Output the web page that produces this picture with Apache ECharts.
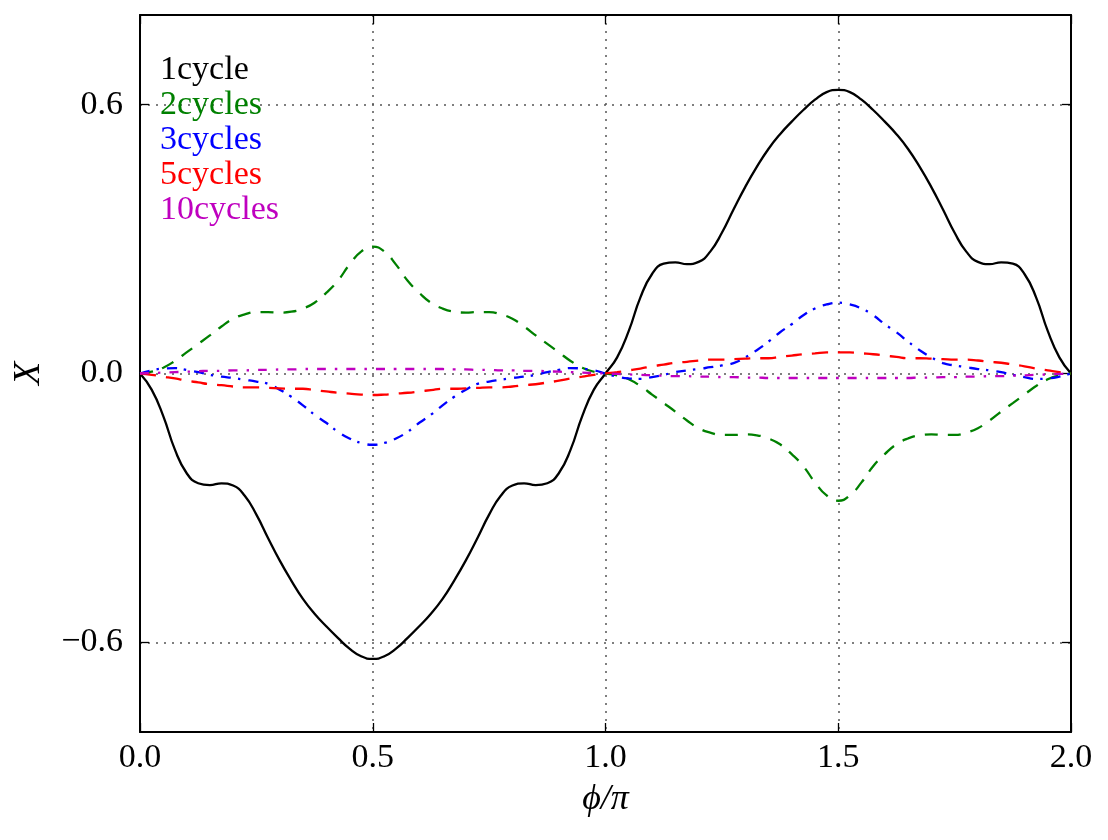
<!DOCTYPE html>
<html><head><meta charset="utf-8">
<script src="https://cdn.jsdelivr.net/npm/echarts@6/dist/echarts.min.js"></script>
<style>html,body{margin:0;padding:0;background:#fff}#c{width:1108px;height:840px}</style>
</head><body><div id="c"></div>
<script>
const phi = [0,0.025,0.05,0.075,0.1,0.125,0.15,0.175,0.2,0.225,0.25,0.275,0.3,0.325,0.35,0.375,0.4,0.425,0.45,0.475,0.5,
0.525,0.55,0.575,0.6,0.625,0.65,0.675,0.7,0.725,0.75,0.775,0.8,0.825,0.85,0.875,0.9,0.925,0.95,0.975,1.0,
1.025,1.05,1.075,1.1,1.125,1.15,1.175,1.2,1.225,1.25,1.275,1.3,1.325,1.35,1.375,1.4,1.425,1.45,1.475,1.5,
1.525,1.55,1.575,1.6,1.625,1.65,1.675,1.7,1.725,1.75,1.775,1.8,1.825,1.85,1.875,1.9,1.925,1.95,1.975,2.0];

const cycle1 = [0,-0.036,-0.095,-0.170,-0.222,-0.245,-0.249,-0.245,-0.250,-0.273,-0.315,-0.367,-0.417,-0.462,-0.503,-0.536,-0.564,-0.590,-0.614,-0.631,-0.637,
-0.631,-0.614,-0.590,-0.564,-0.536,-0.503,-0.462,-0.417,-0.367,-0.315,-0.273,-0.250,-0.245,-0.249,-0.245,-0.222,-0.170,-0.095,-0.036,0,
0.036,0.095,0.170,0.222,0.245,0.248,0.244,0.249,0.272,0.314,0.366,0.416,0.461,0.501,0.534,0.562,0.588,0.611,0.628,0.633,
0.628,0.611,0.588,0.562,0.534,0.501,0.461,0.416,0.366,0.314,0.272,0.249,0.244,0.248,0.245,0.222,0.170,0.095,0.036,0];

const cycles2 = [0,0.004,0.013,0.028,0.047,0.066,0.085,0.105,0.122,0.132,0.137,0.137,0.136,0.138,0.145,0.158,0.180,0.207,0.243,0.272,0.283,
0.272,0.243,0.207,0.180,0.158,0.145,0.138,0.136,0.137,0.137,0.132,0.122,0.105,0.085,0.066,0.047,0.028,0.013,0.004,0,
-0.004,-0.013,-0.028,-0.047,-0.066,-0.085,-0.105,-0.122,-0.132,-0.137,-0.137,-0.136,-0.138,-0.145,-0.158,-0.180,-0.207,-0.243,-0.272,-0.284,
-0.272,-0.243,-0.207,-0.180,-0.158,-0.145,-0.138,-0.136,-0.137,-0.137,-0.132,-0.122,-0.105,-0.085,-0.066,-0.047,-0.028,-0.013,-0.004,0];

const cycles3 = [0,0.007,0.011,0.012,0.008,0.003,-0.003,-0.007,-0.010,-0.014,-0.018,-0.023,-0.036,-0.052,-0.071,-0.092,-0.110,-0.130,-0.145,-0.155,-0.159,
-0.155,-0.145,-0.130,-0.110,-0.092,-0.071,-0.052,-0.036,-0.023,-0.018,-0.014,-0.010,-0.007,-0.003,0.003,0.008,0.012,0.011,0.007,0,
-0.007,-0.011,-0.012,-0.008,-0.003,0.003,0.007,0.010,0.014,0.018,0.023,0.036,0.052,0.071,0.092,0.110,0.130,0.145,0.154,0.158,
0.154,0.145,0.130,0.110,0.092,0.071,0.052,0.036,0.023,0.018,0.014,0.010,0.007,0.003,-0.003,-0.008,-0.012,-0.011,-0.007,0];

const cycles5 = [0,-0.003,-0.007,-0.011,-0.016,-0.020,-0.024,-0.026,-0.029,-0.031,-0.031,-0.032,-0.033,-0.034,-0.034,-0.037,-0.040,-0.043,-0.045,-0.047,-0.048,
-0.047,-0.045,-0.043,-0.040,-0.037,-0.034,-0.034,-0.033,-0.032,-0.031,-0.031,-0.029,-0.026,-0.024,-0.020,-0.016,-0.011,-0.007,-0.003,0,
0.003,0.007,0.011,0.016,0.020,0.024,0.026,0.029,0.031,0.031,0.032,0.033,0.034,0.034,0.037,0.040,0.043,0.045,0.047,0.047,
0.047,0.045,0.043,0.040,0.037,0.034,0.034,0.033,0.032,0.031,0.031,0.029,0.026,0.024,0.020,0.016,0.011,0.007,0.003,0];

const cycles10 = [0,0.001,0.002,0.003,0.004,0.005,0.006,0.006,0.007,0.007,0.008,0.008,0.009,0.009,0.010,0.010,0.010,0.010,0.010,0.010,0.010,
0.010,0.010,0.010,0.010,0.010,0.010,0.009,0.009,0.008,0.008,0.007,0.007,0.006,0.006,0.005,0.004,0.003,0.002,0.001,0,
-0.001,-0.002,-0.003,-0.004,-0.005,-0.006,-0.006,-0.007,-0.007,-0.008,-0.008,-0.009,-0.009,-0.010,-0.010,-0.010,-0.010,-0.010,-0.010,-0.010,
-0.010,-0.010,-0.010,-0.010,-0.010,-0.010,-0.009,-0.009,-0.008,-0.008,-0.007,-0.007,-0.006,-0.006,-0.005,-0.004,-0.003,-0.002,-0.001,0];

const seriesNames = ['1cycle','2cycles','3cycles','5cycles','10cycles'];
const seriesValues = [cycle1, cycles2, cycles3, cycles5, cycles10];
const seriesColors = ['#000000','#008000','#0000ff','#ff0000','#bf00bf'];
const seriesDash = ['solid',[13,10],[10,7,2.5,8],[16,10],[9,9,2.5,9]];
const xTicks = [0, 0.5, 1.0, 1.5, 2.0];
const yTicks = [-0.6, 0.0, 0.6];

const FONT = 'Liberation Serif';
const gridStyle = {color:'#555', width:1.5, type:[2,6]};
const fmt = v => (v < 0 ? '\u2212' : '') + Math.abs(v).toFixed(1);

const chart = echarts.init(document.getElementById('c'), null, {renderer:'canvas'});
const xBase = {
  type:'value', min:0, max:2, interval:0.5,
  axisLine:{show:true, onZero:false, lineStyle:{color:'#000', width:2}},
  axisTick:{show:true, inside:true, length:9, lineStyle:{color:'#000', width:1.3}},
};
const yBase = {
  type:'value', min:-0.8, max:0.8,
  axisLine:{show:true, onZero:false, lineStyle:{color:'#000', width:2}},
  axisTick:{show:true, inside:true, length:9, customValues:yTicks, lineStyle:{color:'#000', width:1.3}},
};
chart.setOption({
  animation:false,
  backgroundColor:'#fff',
  grid:{left:140, right:37, top:15, bottom:108, containLabel:false},
  legend:{
    orient:'vertical', left:150, top:48, icon:'none', itemWidth:0, itemHeight:10, itemGap:1,
    selectedMode:false,
    textStyle:{fontFamily:FONT, fontSize:34, padding:0},
    data: seriesNames.map((n,i)=>({name:n, textStyle:{color:seriesColors[i], fontFamily:FONT, fontSize:34}}))
  },
  xAxis:[
    Object.assign({}, xBase, {
      position:'bottom',
      axisLabel:{show:true, margin:9, color:'#000', fontFamily:FONT, fontSize:34, formatter:v=>fmt(v)},
      splitLine:{show:true, lineStyle:gridStyle},
      name:'\u03D5/\u03C0', nameLocation:'middle', nameGap:50,
      nameTextStyle:{fontFamily:FONT, fontSize:36, fontStyle:'italic', color:'#000'}
    }),
    Object.assign({}, xBase, {position:'top', axisLabel:{show:false}, splitLine:{show:false}})
  ],
  yAxis:[
    Object.assign({}, yBase, {
      position:'left',
      axisLabel:{show:true, margin:17, customValues:yTicks, color:'#000', fontFamily:FONT, fontSize:34, formatter:v=>fmt(v)},
      splitLine:{show:true, lineStyle:gridStyle},
      name:'X', nameLocation:'middle', nameGap:92,
      nameTextStyle:{fontFamily:FONT, fontSize:38, fontStyle:'italic', color:'#000'}
    }),
    Object.assign({}, yBase, {position:'right', axisLabel:{show:false}, splitLine:{show:false}})
  ],
  series: seriesNames.map((n,i)=>({
    name:n, type:'line', xAxisIndex:0, yAxisIndex:0,
    data: phi.map((x,k)=>[x, seriesValues[i][k]]),
    showSymbol:false, symbol:'none', smooth:0.5,
    color: seriesColors[i],
    lineStyle:{color:seriesColors[i], width:2.3, type:seriesDash[i]},
    emphasis:{disabled:true}
  }))
});
</script></body></html>
